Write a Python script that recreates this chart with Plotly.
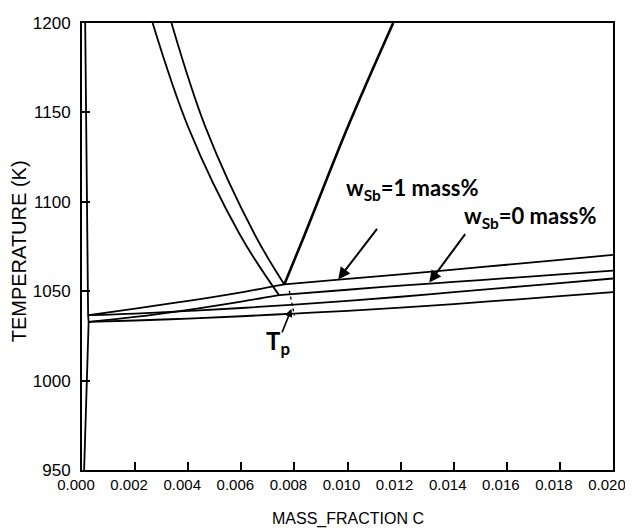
import plotly.graph_objects as go

# ---- data ----
# alpha (ferrite) boundary near x = 0
alpha_x = [0.00012, 0.00018, 0.00023, 0.00025, 0.00018, 0.00008]
alpha_T = [1200, 1100, 1036.6, 1032.8, 1000, 950]

# A3 lines (gamma / alpha+gamma)
a3_sb0_x = [0.00266, 0.00400, 0.00596, 0.00742]
a3_sb0_T = [1200, 1141.8, 1081.3, 1047.8]
a3_sb1_x = [0.00337, 0.00465, 0.00652, 0.00762]
a3_sb1_T = [1200, 1141.8, 1081.3, 1053.8]

# Acm line
acm_x = [0.00762, 0.00838, 0.01001, 0.01172]
acm_T = [1053.8, 1081.3, 1141.8, 1200]

# upper boundary of three-phase region, wSb = 1 mass%
up1_left_x = [0.00025, 0.002, 0.004, 0.006, 0.00762]
up1_left_T = [1036.6, 1040.3, 1044.6, 1049.4, 1053.8]
up1_right_x = [0.00762, 0.010, 0.012, 0.014, 0.016, 0.018, 0.020]
up1_right_T = [1053.8, 1056.9, 1059.4, 1062.1, 1064.8, 1067.5, 1070.3]

# upper boundary, wSb = 0 mass%
up0_left_x = [0.00025, 0.002, 0.004, 0.006, 0.00742]
up0_left_T = [1032.8, 1035.6, 1039.6, 1044.2, 1047.8]
up0_right_x = [0.00742, 0.010, 0.012, 0.014, 0.016, 0.018, 0.020]
up0_right_T = [1047.8, 1050.8, 1053.1, 1055.2, 1057.3, 1059.4, 1061.5]

# lower boundary, wSb = 1 mass%
lo1_x = [0.00025, 0.002, 0.004, 0.006, 0.008, 0.010, 0.012, 0.014, 0.016, 0.018, 0.020]
lo1_T = [1036.6, 1037.5, 1039.0, 1040.6, 1042.5, 1044.6, 1046.9, 1049.5, 1052.0, 1054.5, 1057.1]

# lower boundary, wSb = 0 mass%
lo0_x = [0.00025, 0.002, 0.004, 0.006, 0.008, 0.010, 0.012, 0.014, 0.016, 0.018, 0.020]
lo0_T = [1032.8, 1033.6, 1034.7, 1036.0, 1037.5, 1039.0, 1040.8, 1042.8, 1045.0, 1047.2, 1049.5]

# Tp marker (dashed)
tp_x = [0.00781, 0.00800]
tp_T = [1050.2, 1036.4]

x_ticks = [0.000, 0.002, 0.004, 0.006, 0.008, 0.010, 0.012, 0.014, 0.016, 0.018, 0.020]
x_labels = ["%.3f" % v for v in x_ticks]
y_ticks = [950, 1000, 1050, 1100, 1150, 1200]
y_labels = [str(v) for v in y_ticks]

fig = go.Figure()

def add_line(x, y, width=1.8, shape="spline", dash="solid"):
    fig.add_trace(go.Scatter(x=x, y=y, mode="lines", cliponaxis=True,
                             line=dict(color="black", width=width, shape=shape, dash=dash),
                             hoverinfo="skip", showlegend=False))

add_line(alpha_x, alpha_T, shape="linear")
add_line(a3_sb0_x, a3_sb0_T)
add_line(a3_sb1_x, a3_sb1_T)
add_line(acm_x, acm_T, width=2.6)
add_line(up1_left_x, up1_left_T)
add_line(up1_right_x, up1_right_T)
add_line(up0_left_x, up0_left_T)
add_line(up0_right_x, up0_right_T)
add_line(lo1_x, lo1_T)
add_line(lo0_x, lo0_T)
add_line(tp_x, tp_T, width=1.3, shape="linear", dash="3px,3px")

label_font = dict(family="Lato", size=22, color="black")
annotations = [
    dict(x=0.00985, y=1107.0, xref="x", yref="y", xanchor="left", yanchor="middle",
         text="<b>w<sub>Sb</sub>=1 mass%</b>", showarrow=False, font=label_font),
    dict(x=0.01430, y=1091.5, xref="x", yref="y", xanchor="left", yanchor="middle",
         text="<b>w<sub>Sb</sub>=0 mass%</b>", showarrow=False, font=label_font),
    dict(x=0.00738, y=1021.5, xref="x", yref="y", xanchor="center", yanchor="middle",
         text="<b>T<sub>p</sub></b>", showarrow=False, font=dict(family="Lato", size=24, color="black")),
    # arrows
    dict(x=0.00965, y=1056.6, xref="x", yref="y", ax=40, ay=-52, text="", showarrow=True,
         arrowhead=2, arrowsize=1.2, arrowwidth=2, arrowcolor="black"),
    dict(x=0.01308, y=1054.8, xref="x", yref="y", ax=37, ay=-50, text="", showarrow=True,
         arrowhead=2, arrowsize=1.2, arrowwidth=2, arrowcolor="black"),
    dict(x=0.00789, y=1040.1, xref="x", yref="y", ax=-10, ay=25, text="", showarrow=True,
         arrowhead=2, arrowsize=1.0, arrowwidth=1.6, arrowcolor="black"),
    # axis titles
    dict(x=-0.118, y=0.49, xref="paper", yref="paper", text="TEMPERATURE (K)",
         textangle=-90, showarrow=False, xanchor="center", yanchor="middle",
         font=dict(family="Liberation Sans", size=20, color="black")),
    dict(x=0.5, y=-0.11, xref="paper", yref="paper", text="MASS_FRACTION C",
         showarrow=False, xanchor="center", yanchor="middle",
         font=dict(family="Liberation Sans", size=16, color="black")),
]

fig.update_layout(
    width=633, height=531, autosize=False,
    margin=dict(l=74, r=28, t=6, b=69),
    paper_bgcolor="white", plot_bgcolor="white",
    annotations=annotations,
    xaxis=dict(range=[0, 0.0200001], tickvals=x_ticks, ticktext=x_labels,
               ticks="inside", ticklen=8, tickwidth=1.5, tickcolor="black",
               showline=True, linecolor="black", linewidth=2, mirror=True,
               showgrid=False, zeroline=False, ticklabeloverflow="allow",
               ticklabelshift=-6,
               tickfont=dict(family="Liberation Sans", size=15, color="black")),
    yaxis=dict(range=[950, 1200.0001], tickvals=y_ticks, ticktext=y_labels,
               ticks="inside", ticklen=8, tickwidth=1.5, tickcolor="black",
               showline=True, linecolor="black", linewidth=2, mirror=True,
               showgrid=False, zeroline=False, ticklabelstandoff=6,
               ticklabeloverflow="allow",
               tickfont=dict(family="Liberation Sans", size=17, color="black")),
)

fig.write_html("out.html")
